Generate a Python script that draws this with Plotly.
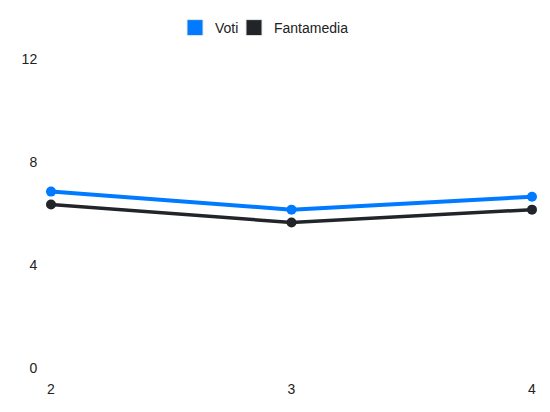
import plotly.graph_objects as go

# giornate and the two series
giornate = [2, 3, 4]
voti = [6.85, 6.15, 6.65]
fantamedia = [6.35, 5.65, 6.15]

y_ticks = [0, 4, 8, 12]

blue = "#007bff"
dark = "#212529"

fig = go.Figure()

# main lines (legend is drawn by the dummy square traces below)
fig.add_trace(go.Scatter(x=giornate, y=voti, mode="lines+markers", name="Voti",
                         line=dict(color=blue, width=4), marker=dict(size=10, color=blue),
                         cliponaxis=False, showlegend=False))
fig.add_trace(go.Scatter(x=giornate, y=fantamedia, mode="lines+markers", name="Fantamedia",
                         line=dict(color=dark, width=3.5), marker=dict(size=10, color=dark),
                         cliponaxis=False, showlegend=False))

# square legend entries, one legend box each so the spacing can be tightened
for name, col, leg in [("Voti", blue, "legend"), ("Fantamedia", dark, "legend2")]:
    fig.add_trace(go.Scatter(x=[None], y=[None], mode="markers", name=name, legend=leg,
                             marker=dict(symbol="square", size=16, color=col,
                                         line=dict(color="#e6e6e6", width=1))))

leg_style = dict(orientation="h", xanchor="left", xref="container",
                 y=1 - 28 / 412, yanchor="middle", yref="container",
                 bgcolor="rgba(0,0,0,0)",
                 font=dict(size=14, color="#222"),
                 itemclick=False, itemdoubleclick=False)

fig.update_layout(
    width=550, height=412,
    margin=dict(l=51, r=18, t=59, b=44, autoexpand=False),
    paper_bgcolor="white", plot_bgcolor="white",
    font=dict(family="Liberation Sans, Arial, sans-serif", size=14, color="#222"),
    legend=dict(x=175 / 550, **leg_style),
    legend2=dict(x=234 / 550, **leg_style),
    xaxis=dict(range=[2, 4], tickvals=giornate, showgrid=False, zeroline=False,
               showline=False, ticks="outside", ticklen=8, tickcolor="rgba(0,0,0,0)"),
    yaxis=dict(range=[0, 12], tickvals=y_ticks, showgrid=False, zeroline=False,
               showline=False, ticks="outside", ticklen=10, tickcolor="rgba(0,0,0,0)"),
)

fig.write_html("out.html", config={"displayModeBar": False},
               post_script="document.body.style.margin='0';")
